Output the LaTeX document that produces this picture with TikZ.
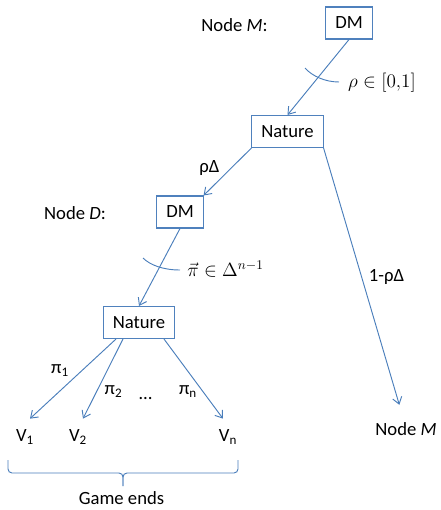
\documentclass[tikz,border=0pt]{standalone}
\usepackage{amsmath,amssymb}
\usepackage{fontspec}
\setmainfont{Carlito}
\usepackage{xcolor}
\definecolor{gtline}{HTML}{4A7EBB}
\definecolor{gtframe}{HTML}{4F81BD}
\usepackage{tikz}
\usetikzlibrary{arrows.meta,positioning,calc}
\tikzset{
  gtbox/.style={draw=gtframe,line width=0.8pt,inner xsep=7pt,inner ysep=0pt,minimum height=24pt,font=\fontsize{14}{17}\selectfont},
  gttext/.style={font=\fontsize{14}{17}\selectfont,inner sep=1pt},
  gtleaf/.style={font=\fontsize{14}{17}\selectfont,inner xsep=1pt,inner ysep=8pt},
  gtflow/.style={draw=gtline,line width=0.7pt,-{Straight Barb[length=5pt,width=7pt]}},
  gtarc/.style={draw=gtline,line width=0.7pt},
}

\begin{document}
\begin{tikzpicture}[x=0.75pt,y=-0.75pt]
\useasboundingbox (0,0) rectangle (440,510);
 % decision tree of the game
\node[gtbox] (dm1) at (349,23) {DM};
\node[gttext] (labm) at (234.5,25) {Node \textit{M}:};
\node[gtbox] (nat1) at (287.5,131.5) {Nature};
\node[gtbox] (dm2) at (180,212) {DM};
\node[gttext] (labd) at (75,213) {Node \textit{D}:};
\node[gtbox] (nat2) at (139,322.5) {Nature};
\node[gttext] (rholab) at (382,83) {$\rho\in[0{,}1]$};
\node[gttext] (pilab) at (225.5,269) {$\vec{\pi}\in\Delta^{n-1}$};
\node[gttext] (pd) at (209.5,168.5) {ρΔ};
\node[gttext] (qd) at (386.5,276.5) {1-ρΔ};
\node[gttext] (pi1) at (60,371) {π\textsubscript{1}};
\node[gttext] (pi2) at (113.5,392) {π\textsubscript{2}};
\node[gttext] (dots) at (145.5,399) {…};
\node[gttext] (pin) at (188,392) {π\textsubscript{n}};
\node[gtleaf] (v1) at (25,437) {V\textsubscript{1}};
\node[gtleaf] (v2) at (78,437) {V\textsubscript{2}};
\node[gtleaf] (vn) at (228,437) {V\textsubscript{n}};
\node[gtleaf] (nodem) at (406,429) {Node \textit{M}};
\node[gttext,inner sep=0pt] (ends) at (121.5,498) {Game ends};
\draw[gtflow] (dm1.south) -- (nat1.north);
\draw[gtflow] (nat1.south west) -- (dm2.north east);
\draw[gtflow] (nat1.south east) -- ([xshift=-5pt,yshift=5pt]nodem.north);
\draw[gtflow] (dm2.south) -- (nat2.north);
\draw[gtflow] ([xshift=-17.25pt]nat2.south) -- ([xshift=3.75pt]v1.north);
\draw[gtflow] ([xshift=-12pt]nat2.south) -- ([xshift=3.75pt]v2.north);
\draw[gtflow] ([xshift=18.75pt]nat2.south) -- ([xshift=-3.75pt]vn.north);
\draw[gtarc] (305,68) .. controls (312,76) and (325,82) .. (339,82);
\draw[gtarc] (143,258) .. controls (150,265) and (163,270) .. (180,270);
\draw[gtarc,rounded corners=3pt] (8,460) -- (8,473) -- (123,473) -- (123,486);
\draw[gtarc,rounded corners=3pt] (238,460) -- (238,473) -- (123,473) -- (123,486);
\end{tikzpicture}
\end{document}
